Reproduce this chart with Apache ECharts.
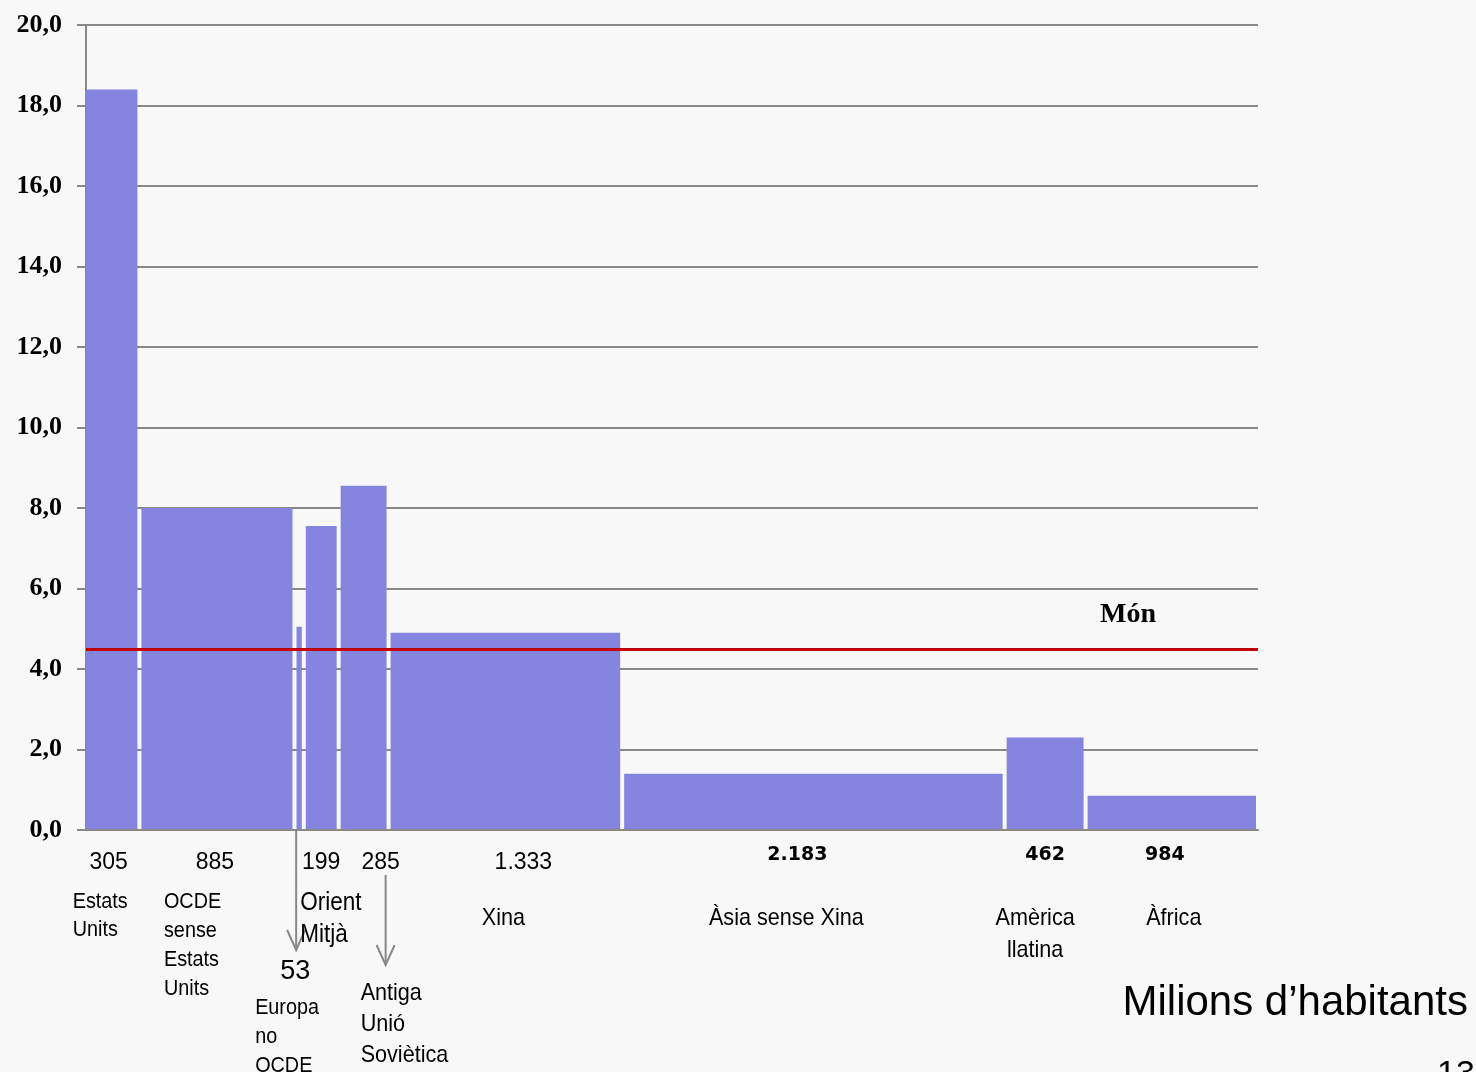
<!DOCTYPE html>
<html>
<head>
<meta charset="utf-8">
<script src="https://cdn.jsdelivr.net/npm/echarts@6/dist/echarts.min.js"></script>
<style>
html, body { margin: 0; padding: 0; background: #f8f8f8; }
#chart { width: 1476px; height: 1072px; }
</style>
</head>
<body>
<div id="chart"></div>
<script>
const regionLabels = ['Estats\nUnits', 'OCDE\nsense\nEstats\nUnits', 'Europa\nno\nOCDE', 'Orient\nMitjà',
    'Antiga\nUnió\nSoviètica', 'Xina', 'Àsia sense Xina', 'Amèrica\nllatina', 'Àfrica']
const population = [305, 885, 53, 199, 285, 1333, 2183, 462, 984]
const popLabels = ['305', '885', '53', '199', '285', '1.333', '2.183', '462', '984']
const emissions = [18.4, 8.0, 5.05, 7.55, 8.55, 4.9, 1.4, 2.3, 0.85]
const worldAvg = 4.5

// where each bar's labels sit, relative to bar centre and the x axis
const sans = "'Liberation Sans', Arial, sans-serif"
const serif = "'Liberation Serif', 'Times New Roman', serif"
const boldNum = {family: "'DejaVu Sans', sans-serif", weight: 'bold', size: 19}
const plainNum = {family: sans, weight: 'normal', size: 23}
const labelLayout = [
    {nx: -4, ny: 33, num: plainNum, tx: -40, ty: 58, align: 'left', lh: 28, fs: 22},
    {nx: -2, ny: 33, num: plainNum, tx: -53, ty: 57, align: 'left', lh: 29, fs: 22},
    {nx: -4, ny: 142, num: {family: sans, weight: 'normal', size: 27}, tx: -44, ty: 163, align: 'left', lh: 29, fs: 22,
        arrow: {dx: -3, y0: 0, y1: 120}},
    {nx: 0, ny: 33, num: plainNum, tx: -21, ty: 57, align: 'left', lh: 32, fs: 25},
    {nx: 17, ny: 33, num: plainNum, tx: -3, ty: 148, align: 'left', lh: 31, fs: 24,
        arrow: {dx: 22, y0: 45, y1: 135}},
    {nx: 18, ny: 33, num: plainNum, tx: -2, ty: 73, align: 'center', lh: 30, fs: 24},
    {nx: -16, ny: 25, num: boldNum, tx: -27, ty: 73, align: 'center', lh: 30, fs: 24},
    {nx: 0, ny: 25, num: boldNum, tx: -10, ty: 72, align: 'center', lh: 32, fs: 24},
    {nx: -7, ny: 25, num: boldNum, tx: 2, ty: 73, align: 'center', lh: 30, fs: 24}
]

const total = population.reduce((a, b) => a + b, 0)
const barData = []
let acc = 0
population.forEach((p, i) => {
    barData.push([acc, acc + p, emissions[i], i])
    acc += p
})

function renderBar(params, api) {
    const i = api.value(3)
    const top = api.coord([api.value(0), api.value(2)])
    const base = api.coord([api.value(1), 0])
    const left = top[0] + (i === 0 ? 0 : 2)
    const right = base[0] - 2
    const cx = (top[0] + base[0]) / 2
    const ay = base[1]
    const lay = labelLayout[i]
    const children = [
        {
            type: 'rect',
            shape: {x: left, y: top[1], width: right - left, height: ay - top[1] - 1},
            style: {fill: '#8585df'}
        },
        {
            type: 'text', x: cx + lay.nx, y: ay + lay.ny,
            style: {
                text: popLabels[i], fill: '#000', align: 'center', verticalAlign: 'middle',
                fontFamily: lay.num.family, fontWeight: lay.num.weight, fontSize: lay.num.size
            }
        },
        {
            // the original uses a condensed face; squeeze the regular one
            type: 'text', x: cx + lay.tx, y: ay + lay.ty, scaleX: 0.9,
            style: {
                text: regionLabels[i], fill: '#000', align: lay.align, verticalAlign: 'top',
                fontFamily: sans, fontSize: lay.fs, lineHeight: lay.lh
            }
        }
    ]
    if (lay.arrow) {
        const ax = cx + lay.arrow.dx
        const y1 = ay + lay.arrow.y1
        children.push({
            type: 'line',
            shape: {x1: ax, y1: ay + lay.arrow.y0, x2: ax, y2: y1},
            style: {stroke: '#888', lineWidth: 2}
        })
        children.push({
            type: 'polyline',
            shape: {points: [[ax - 9, y1 - 20], [ax, y1], [ax + 9, y1 - 20]]},
            style: {stroke: '#888', lineWidth: 2, fill: null}
        })
    }
    return {type: 'group', children: children}
}

const chart = echarts.init(document.getElementById('chart'))
chart.setOption({
    backgroundColor: '#f8f8f8',
    animation: false,
    grid: {left: 86, right: 218, top: 25, bottom: 242},
    xAxis: {
        type: 'value',
        min: 0,
        max: total,
        axisLine: {show: true, lineStyle: {color: '#888', width: 2}},
        axisTick: {show: false},
        axisLabel: {show: false},
        splitLine: {show: false}
    },
    yAxis: {
        type: 'value',
        min: 0,
        max: 20,
        interval: 2,
        axisLine: {show: true, lineStyle: {color: '#888', width: 2}},
        axisTick: {show: true, length: 9, lineStyle: {color: '#888', width: 2}},
        axisLabel: {
            margin: 24,
            color: '#000',
            fontFamily: serif,
            fontWeight: 'bold',
            fontSize: 26,
            padding: [3, 0, 0, 0],
            formatter: v => v.toFixed(1).replace('.', ',')
        },
        splitLine: {lineStyle: {color: '#888', width: 2}}
    },
    series: [{
        type: 'custom',
        renderItem: renderBar,
        encode: {x: [0, 1], y: 2},
        data: barData,
        z: 2,
        markLine: {
            silent: true,
            symbol: 'none',
            label: {show: false},
            lineStyle: {color: '#c00000', width: 3, type: 'solid'},
            data: [{yAxis: worldAvg}],
            z: 5
        }
    }],
    graphic: [
        {
            type: 'text', left: 1100, top: 601,
            style: {text: 'Món', fontFamily: serif, fontWeight: 'bold', fontSize: 28, fill: '#000'}
        },
        {
            type: 'text', right: 8, top: 982,
            style: {text: 'Milions d’habitants', fontFamily: sans, fontSize: 42, fill: '#000'}
        },
        {
            type: 'text', left: 1437, top: 1058,
            style: {text: '13', fontFamily: sans, fontSize: 34, fill: '#000'}
        }
    ]
})
window.addEventListener('resize', () => chart.resize())
</script>
</body>
</html>
